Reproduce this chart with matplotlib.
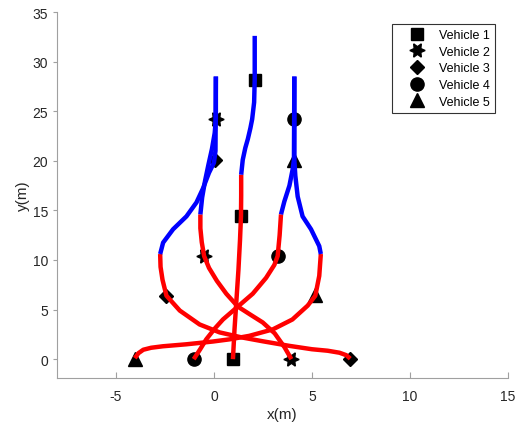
import matplotlib
matplotlib.use("Agg")
import matplotlib.pyplot as plt

plt.rcParams["font.family"] = ["Liberation Sans", "DejaVu Sans"]
plt.rcParams["axes.unicode_minus"] = False

# trajectories: red part first, then blue part
v1_red_x = [0.97, 1.05, 1.15, 1.25, 1.33, 1.38, 1.39, 1.39]
v1_red_y = [0.0, 3.0, 6.0, 9.0, 12.0, 14.4, 16.5, 18.6]
v1_blue_x = [1.39, 1.47, 1.60, 1.73, 1.86, 1.95, 2.05, 2.08, 2.08]
v1_blue_y = [18.6, 20.1, 21.3, 22.2, 23.3, 24.2, 25.9, 28.2, 32.6]

v2_red_x = [3.95, 3.6, 3.1, 2.49, 1.85, 1.22, 0.63, 0.15, -0.25, -0.5, -0.62, -0.69, -0.69]
v2_red_y = [0.0, 1.2, 2.6, 3.7, 4.5, 5.3, 6.6, 7.9, 9.2, 10.4, 11.8, 13.2, 14.6]
v2_blue_x = [-0.69, -0.6, -0.45, -0.28, -0.1, 0.04, 0.1, 0.1]
v2_blue_y = [14.6, 16.3, 18.0, 19.6, 21.2, 22.8, 24.2, 28.5]

v3_red_x = [6.95, 6.75, 6.4, 5.8, 5.0, 3.85, 2.5, 1.4, 0.29, -0.73, -1.74, -2.42,
            -2.62, -2.72, -2.74]
v3_red_y = [0.05, 0.4, 0.65, 0.85, 1.0, 1.34, 1.8, 2.2, 2.7, 3.5, 4.9, 6.4,
            8.0, 9.3, 10.6]
v3_blue_x = [-2.74, -2.59, -2.08, -1.4, -0.89, -0.56, -0.25, 0.0, 0.08, 0.1]
v3_blue_y = [10.6, 11.75, 13.1, 14.4, 15.8, 17.2, 18.8, 19.8, 21.0, 28.5]

v4_red_x = [-1.03, -0.7, -0.39, 0.05, 0.46, 1.22, 1.98, 2.66, 3.08, 3.25, 3.35, 3.42]
v4_red_y = [0.0, 1.0, 2.0, 3.1, 4.0, 5.3, 6.6, 8.2, 9.5, 10.4, 12.5, 14.6]
v4_blue_x = [3.42, 3.59, 3.85, 4.01, 4.08, 4.1]
v4_blue_y = [14.6, 15.9, 17.5, 19.1, 20.1, 28.5]

v5_red_x = [-4.03, -3.85, -3.6, -3.2, -2.6, -1.4, -0.05, 0.8, 1.8, 3.0, 4.0, 4.78,
            5.17, 5.37, 5.45]
v5_red_y = [0.1, 0.6, 0.95, 1.15, 1.3, 1.5, 1.78, 2.0, 2.35, 3.0, 4.0, 5.4,
            6.4, 8.4, 10.6]
v5_blue_x = [5.45, 5.37, 4.95, 4.52, 4.27, 4.15, 4.1, 4.1]
v5_blue_y = [10.6, 11.4, 13.1, 14.4, 16.4, 18.5, 20.1, 28.5]

# marker positions per vehicle
mk_x = [[0.97, 1.39, 2.08], [3.95, -0.5, 0.1], [6.95, -2.42, 0.05],
        [-1.03, 3.25, 4.08], [-4.03, 5.17, 4.08]]
mk_y = [[0.0, 14.4, 28.2], [0.0, 10.4, 24.2], [0.0, 6.4, 20.1],
        [0.0, 10.4, 24.2], [0.0, 6.5, 20.1]]
labels = ["Vehicle 1", "Vehicle 2", "Vehicle 3", "Vehicle 4", "Vehicle 5"]
markers = ["s", (6, 1, 30), "D", "o", "^"]
msizes = [8, 11, 7.5, 9.5, 10]

red_x = [v1_red_x, v2_red_x, v3_red_x, v4_red_x, v5_red_x]
red_y = [v1_red_y, v2_red_y, v3_red_y, v4_red_y, v5_red_y]
blue_x = [v1_blue_x, v2_blue_x, v3_blue_x, v4_blue_x, v5_blue_x]
blue_y = [v1_blue_y, v2_blue_y, v3_blue_y, v4_blue_y, v5_blue_y]

fig = plt.figure(figsize=(5.18, 4.27), dpi=100)
ax = fig.add_axes([0.110, 0.1124, 0.871, 0.857])

for i in range(5):
    ax.plot(mk_x[i], mk_y[i], linestyle="none", marker=markers[i], ms=msizes[i],
            color="black", label=labels[i], zorder=2)
    ax.plot(red_x[i], red_y[i], color="#ff0000", lw=3.2, zorder=3,
            solid_capstyle="butt", solid_joinstyle="round")
    ax.plot(blue_x[i], blue_y[i], color="#0000ff", lw=3.2, zorder=3,
            solid_capstyle="butt", solid_joinstyle="round")

ax.set_xlim(-8, 15)
ax.set_ylim(-1.9, 35)
ax.set_xticks([-5, 0, 5, 10, 15])
ax.set_yticks([0, 5, 10, 15, 20, 25, 30, 35])
for s in ["top", "right"]:
    ax.spines[s].set_visible(False)
for s in ["left", "bottom"]:
    ax.spines[s].set_color("#a0a0a0")
    ax.spines[s].set_linewidth(0.8)
ax.tick_params(axis="x", direction="in", length=4, colors="#a0a0a0",
               labelcolor="#262626", labelsize=10, pad=8)
ax.tick_params(axis="y", direction="out", length=3, colors="#a0a0a0",
               labelcolor="#262626", labelsize=10)
ax.set_xlabel("x(m)", fontsize=11, color="#262626", labelpad=3)
ax.set_ylabel("y(m)", fontsize=11, color="#262626", labelpad=2)

leg = ax.legend(loc="upper right", bbox_to_anchor=(0.971, 0.967), fontsize=9,
                frameon=True, fancybox=False, edgecolor="black",
                handlelength=3.2, handletextpad=0.2, labelspacing=0.37,
                borderpad=0.4, borderaxespad=0)
leg.get_frame().set_linewidth(0.8)

fig.savefig("out.png", dpi=100)
